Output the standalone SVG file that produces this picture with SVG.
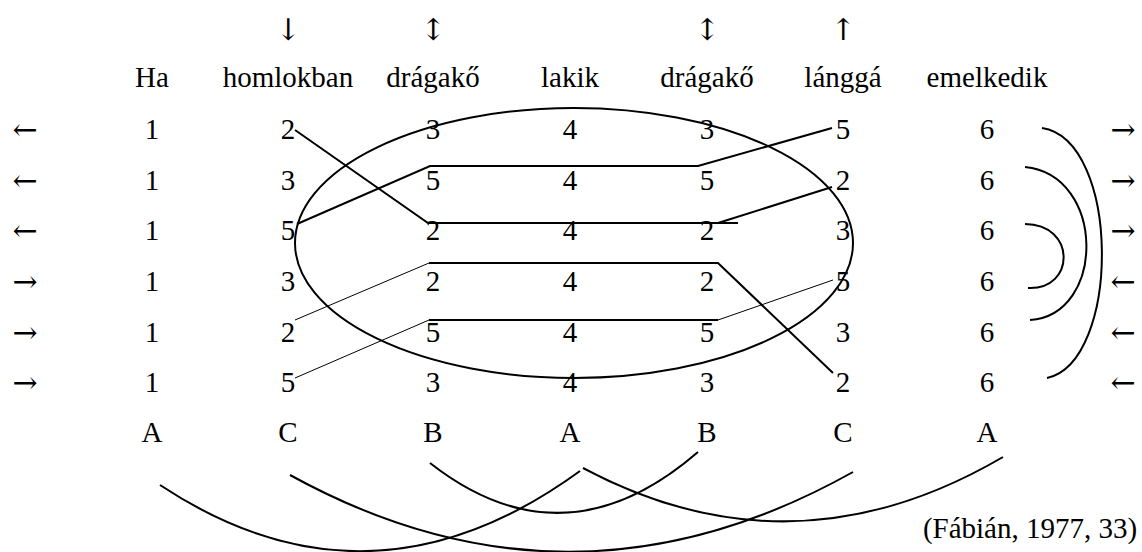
<svg xmlns="http://www.w3.org/2000/svg" width="1142" height="552" viewBox="0 0 1142 552">
<style>
.t{font-family:'Liberation Serif','Times New Roman','DejaVu Serif',serif;font-size:29px;fill:#000;text-anchor:middle}
.a{font-family:'DejaVu Serif','Liberation Serif',serif;font-size:30px;fill:#000;text-anchor:middle}
.thick{fill:none;stroke:#000;stroke-width:2}
.thin{fill:none;stroke:#000;stroke-width:1}
</style>
<rect width="1142" height="552" fill="#fff"/>
<g id="top-arrows" class="a">
<text x="288" y="40">↓</text>
<text x="433" y="40">↕</text>
<text x="707" y="40">↕</text>
<text x="843" y="40">↑</text>
</g>
<g id="header" class="t">
<text x="152" y="87">Ha</text>
<text x="288" y="87">homlokban</text>
<text x="433" y="87">drágakő</text>
<text x="570" y="87">lakik</text>
<text x="707" y="87">drágakő</text>
<text x="843" y="87">lánggá</text>
<text x="987" y="87">emelkedik</text>
</g>
<g id="side-arrows" class="a">
<text x="25" y="140">←</text><text x="1123" y="140">→</text>
<text x="25" y="191">←</text><text x="1123" y="191">→</text>
<text x="25" y="241">←</text><text x="1123" y="241">→</text>
<text x="25" y="292">→</text><text x="1123" y="292">←</text>
<text x="25" y="343">→</text><text x="1123" y="343">←</text>
<text x="25" y="393">→</text><text x="1123" y="393">←</text>
</g>
<g id="row1" class="t"><text x="152" y="139">1</text><text x="288" y="139">2</text><text x="433" y="139">3</text><text x="570" y="139">4</text><text x="707" y="139">3</text><text x="843" y="139">5</text><text x="987" y="139">6</text></g>
<g id="row2" class="t"><text x="152" y="190">1</text><text x="288" y="190">3</text><text x="433" y="190">5</text><text x="570" y="190">4</text><text x="707" y="190">5</text><text x="843" y="190">2</text><text x="987" y="190">6</text></g>
<g id="row3" class="t"><text x="152" y="240">1</text><text x="288" y="240">5</text><text x="433" y="240">2</text><text x="570" y="240">4</text><text x="707" y="240">2</text><text x="843" y="240">3</text><text x="987" y="240">6</text></g>
<g id="row4" class="t"><text x="152" y="291">1</text><text x="288" y="291">3</text><text x="433" y="291">2</text><text x="570" y="291">4</text><text x="707" y="291">2</text><text x="843" y="291">5</text><text x="987" y="291">6</text></g>
<g id="row5" class="t"><text x="152" y="342">1</text><text x="288" y="342">2</text><text x="433" y="342">5</text><text x="570" y="342">4</text><text x="707" y="342">5</text><text x="843" y="342">3</text><text x="987" y="342">6</text></g>
<g id="row6" class="t"><text x="152" y="392">1</text><text x="288" y="392">5</text><text x="433" y="392">3</text><text x="570" y="392">4</text><text x="707" y="392">3</text><text x="843" y="392">2</text><text x="987" y="392">6</text></g>
<g id="letters" class="t">
<text x="152" y="442">A</text>
<text x="288" y="442">C</text>
<text x="433" y="442">B</text>
<text x="570" y="442">A</text>
<text x="707" y="442">B</text>
<text x="843" y="442">C</text>
<text x="987" y="442">A</text>
</g>
<g id="citation" class="t"><text x="1030" y="538">(Fábián, 1977, 33)</text></g>
<g id="connectors">
<ellipse class="thick" cx="574" cy="243" rx="279" ry="135"/>
<polyline class="thick" points="295,130 428,223 738,223"/>
<line class="thick" x1="718" y1="223" x2="832" y2="187"/>
<polyline class="thick" points="297,224 430,166 698,166 832,128"/>
<line class="thin" x1="295" y1="320" x2="429" y2="263"/>
<polyline class="thick" points="429,263 718,263 833,373"/>
<line class="thin" x1="295" y1="378" x2="429" y2="320"/>
<line class="thick" x1="429" y1="320" x2="718" y2="320"/>
<line class="thin" x1="718" y1="320" x2="833" y2="280"/>
<path class="thick" d="M1042,128 C1121,140 1121,362 1047,378"/>
<path class="thick" d="M1025,167 C1106,175 1106,315 1030,320"/>
<path class="thick" d="M1025,224 C1076,224 1076,290 1028,288"/>
<path class="thick" d="M160,485 Q370,624 580,471"/>
<path class="thick" d="M290,475 Q571,630 853,472"/>
<path class="thick" d="M430,463 Q564,568 698,452"/>
<path class="thick" d="M583,468 Q793,580 1003,457"/>
</g>
</svg>
